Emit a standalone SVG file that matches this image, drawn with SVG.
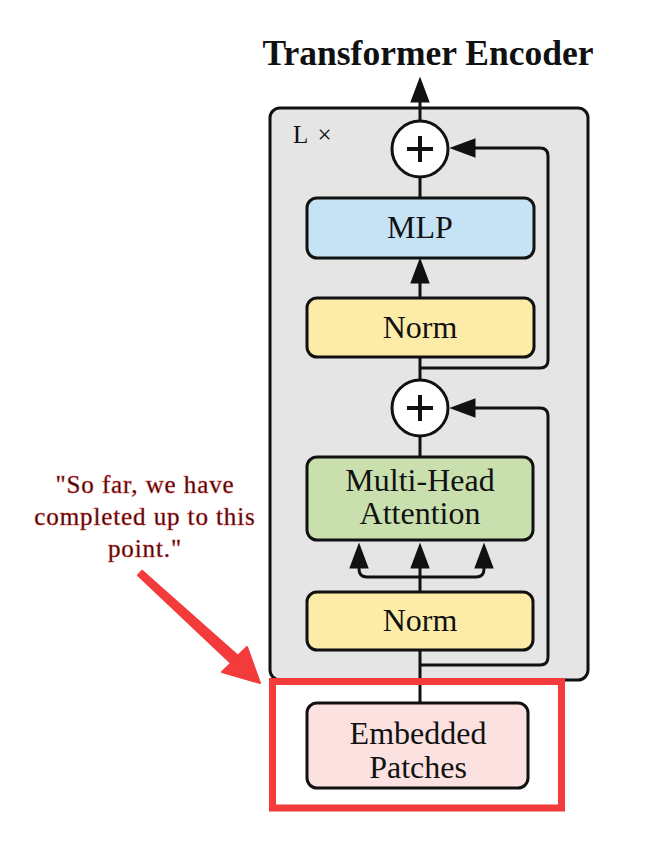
<svg xmlns="http://www.w3.org/2000/svg" width="652" height="848" viewBox="0 0 652 848">
<style>
.box{stroke:#111;stroke-width:3}
.lbl{font-family:"Liberation Serif","Times New Roman",serif;font-size:32px;fill:#111;text-anchor:middle}
.con{fill:none;stroke:#111;stroke-width:3;stroke-linejoin:round}
.note{font-family:"Liberation Serif","Times New Roman",serif;font-size:25px;letter-spacing:0.9px;fill:#2e0404;stroke:#d83a3a;stroke-width:0.5;text-anchor:middle}
</style>
<defs>
<marker id="ah" markerUnits="userSpaceOnUse" markerWidth="26" markerHeight="20" viewBox="0 0 24 18" refX="18" refY="9" orient="auto">
<path d="M0,0 L24,9 L0,18 z" fill="#111"/>
</marker>
</defs>
<rect width="652" height="848" fill="#fff"/>
<text x="428" y="65" font-family="Liberation Serif,'Times New Roman',serif" font-size="35.5" font-weight="bold" text-anchor="middle" fill="#111">Transformer Encoder</text>
<g id="encoder-block">
<rect x="270" y="108" width="318" height="572" rx="10" fill="#e5e5e5" stroke="#111" stroke-width="3"/>
<text x="293" y="143" font-family="Liberation Serif,'Times New Roman',serif" font-size="25" letter-spacing="2" fill="#111">L ×</text>
</g>
<g id="connectors">
<path class="con" d="M420,121 V83" marker-end="url(#ah)"/>
<path class="con" d="M420,177 V198"/>
<path class="con" d="M420,298 V264" marker-end="url(#ah)"/>
<path class="con" d="M420,357 V380"/>
<path class="con" d="M420,368 H540 Q548,368 548,360 V156 Q548,148 540,148 H456" marker-end="url(#ah)"/>
<path class="con" d="M420,436 V457"/>
<path class="con" d="M420,592 V549" marker-end="url(#ah)"/>
<path class="con" d="M420,577 H367 Q359,577 359,569 V549" marker-end="url(#ah)"/>
<path class="con" d="M420,577 H476 Q484,577 484,569 V549" marker-end="url(#ah)"/>
<path class="con" d="M420,703 V650"/>
<path class="con" d="M420,665 H540 Q548,665 548,657 V416 Q548,408 540,408 H456" marker-end="url(#ah)"/>
</g>
<g id="add-top">
<circle cx="420" cy="149" r="28" fill="#fff" stroke="#111" stroke-width="3"/>
<path d="M407,149 H433 M420,136 V162" stroke="#111" stroke-width="4"/>
</g>
<g id="mlp">
<rect class="box" x="307" y="198" width="227" height="60" rx="10" fill="#c6e2f5"/>
<text class="lbl" x="420" y="238">MLP</text>
</g>
<g id="norm-top">
<rect class="box" x="307" y="298" width="227" height="59" rx="10" fill="#fdeba8"/>
<text class="lbl" x="420" y="338">Norm</text>
</g>
<g id="add-bottom">
<circle cx="420" cy="408" r="28" fill="#fff" stroke="#111" stroke-width="3"/>
<path d="M407,408 H433 M420,395 V421" stroke="#111" stroke-width="4"/>
</g>
<g id="mha">
<rect class="box" x="307" y="457" width="226" height="83" rx="10" fill="#c9e0ae"/>
<text class="lbl" x="420" y="491">Multi-Head</text>
<text class="lbl" x="420" y="524">Attention</text>
</g>
<g id="norm-bottom">
<rect class="box" x="307" y="592" width="226" height="58" rx="10" fill="#fdeba8"/>
<text class="lbl" x="420" y="631">Norm</text>
</g>
<g id="highlight">
<rect x="272.5" y="681.5" width="289" height="126.5" fill="none" stroke="#f33b3b" stroke-width="7"/>
</g>
<g id="embedded-patches">
<rect class="box" x="307" y="703" width="221" height="85" rx="10" fill="#fce1e1"/>
<text class="lbl" x="418" y="744">Embedded</text>
<text class="lbl" x="418" y="778">Patches</text>
</g>
<g id="annotation">
<text class="note" x="145" y="493">"So far, we have</text>
<text class="note" x="145" y="525">completed up to this</text>
<text class="note" x="145" y="557">point."</text>
<polygon points="142,570.8 237.9,655.8 247,647 260,683 222,672 231.1,663.2 138,575.2" fill="#f33b3b" stroke="#f33b3b" stroke-width="2" stroke-linejoin="round"/>
</g>
</svg>
